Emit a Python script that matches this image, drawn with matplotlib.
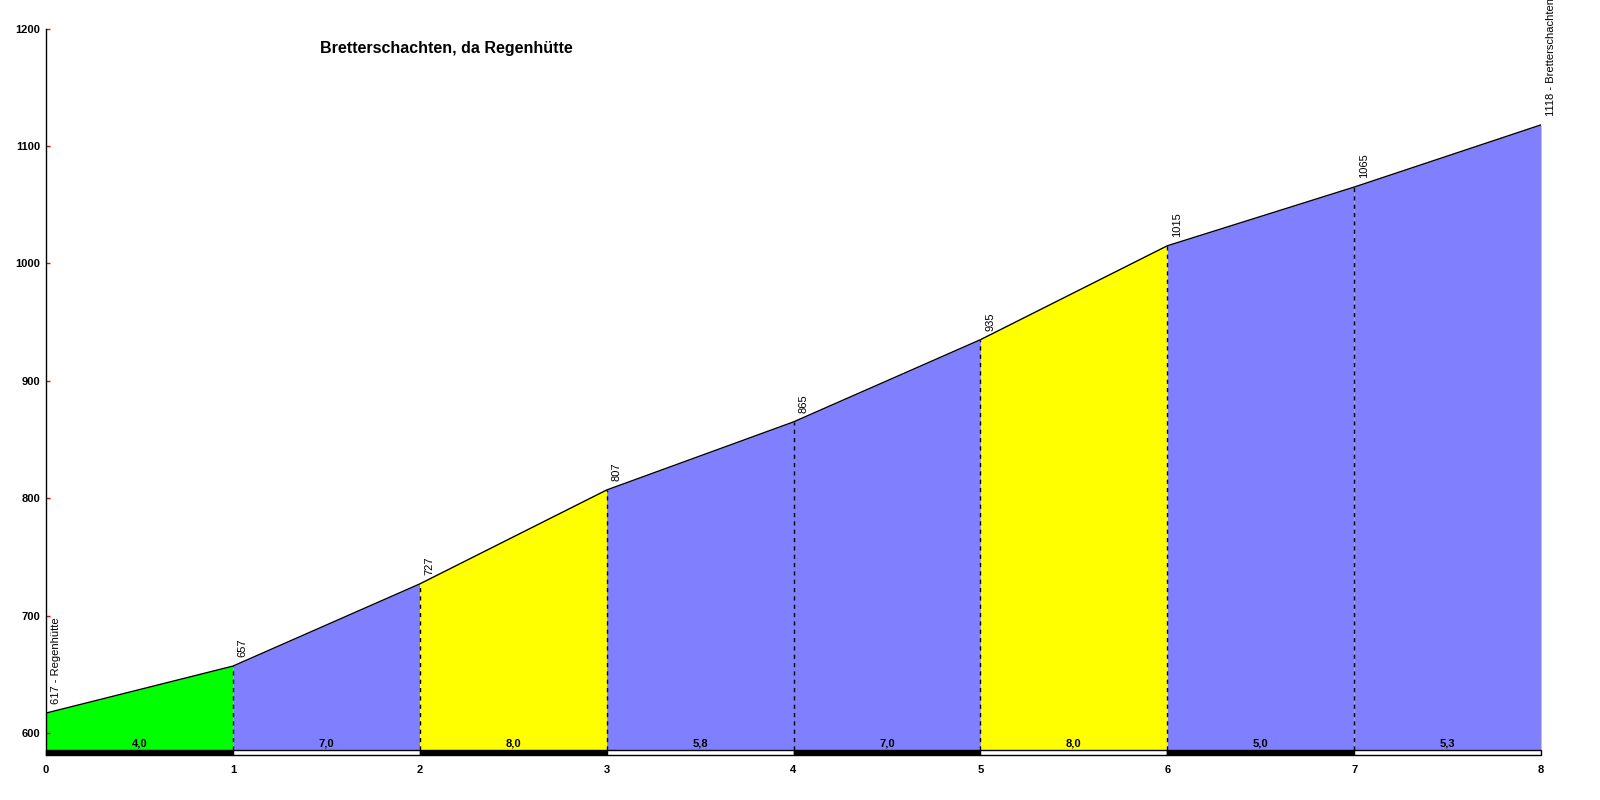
import matplotlib
matplotlib.use("Agg")
import matplotlib.pyplot as plt
from matplotlib.patches import Rectangle
import matplotlib.transforms as mtransforms

plt.rcParams['font.family'] = ['Liberation Sans', 'DejaVu Sans']

title = "Bretterschachten, da Regenhütte"
km = [0, 1, 2, 3, 4, 5, 6, 7, 8]
elev = [617, 657, 727, 807, 865, 935, 1015, 1065, 1118]
point_labels = ["617 - Regenhütte", "657", "727", "807", "865", "935", "1015", "1065",
                "1118 - Bretterschachten"]
grades = [4.0, 7.0, 8.0, 5.8, 7.0, 8.0, 5.0, 5.3]
grade_labels = ["4,0", "7,0", "8,0", "5,8", "7,0", "8,0", "5,0", "5,3"]
yticks = [600, 700, 800, 900, 1000, 1100, 1200]


def grade_color(g):
    if g < 5:
        return "#00FF00"
    if g < 8:
        return "#8080FF"
    return "#FFFF00"


fig = plt.figure(figsize=(16, 8), dpi=100)
ax = fig.add_axes([46 / 1600, 45 / 800, (1541 - 46) / 1600, (755 - 28.6) / 800])

ymin, ymax = 581.3, 1200
base = 585.5
ax.set_xlim(0, 8)
ax.set_ylim(ymin, ymax)

for i in range(len(grades)):
    x0, x1 = km[i], km[i + 1]
    ax.fill_between([x0, x1], [elev[i], elev[i + 1]], base,
                    color=grade_color(grades[i]), linewidth=0, zorder=1)
    ax.add_patch(Rectangle((x0, ymin), x1 - x0, base - ymin,
                           facecolor="black" if i % 2 == 0 else "white",
                           edgecolor="black", linewidth=1, zorder=3, clip_on=False))
    ax.text((x0 + x1) / 2, base + 1.5, grade_labels[i], ha="center", va="bottom",
            fontsize=8, fontweight="bold", zorder=4)

ax.plot(km, elev, color="black", linewidth=1, zorder=3)
for i in range(1, len(km) - 1):
    ax.plot([km[i], km[i]], [base, elev[i]], color="black", linewidth=1,
            linestyle=(0, (3, 3)), zorder=2)

for i in range(len(km)):
    off = mtransforms.offset_copy(ax.transData, fig=fig, x=10, y=9, units="dots")
    ax.text(km[i], elev[i], point_labels[i], rotation=90, ha="center", va="bottom",
            fontsize=8, transform=off, clip_on=False)

ax.text(320 / 1600, 1 - 48 / 800, title, transform=fig.transFigure, ha="left",
        va="center", fontsize=11.5, fontweight="bold")

for s in ["top", "right", "bottom"]:
    ax.spines[s].set_visible(False)
ax.spines["left"].set_color("black")
ax.spines["left"].set_linewidth(1)

ax.set_yticks(yticks)
ax.set_yticklabels([str(v) for v in yticks], fontsize=8, fontweight="bold")
ax.tick_params(axis="y", direction="in", length=3, color="red", width=1, pad=4)
ax.set_xticks(km)
ax.set_xticklabels([str(k) for k in km], fontsize=8, fontweight="bold")
ax.tick_params(axis="x", length=0, pad=7)

fig.savefig("out.png", dpi=100)
